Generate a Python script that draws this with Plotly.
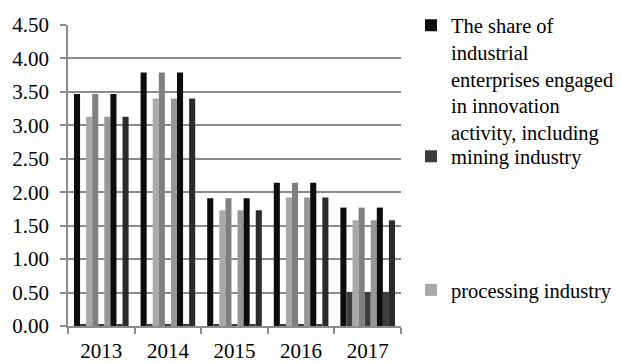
import plotly.graph_objects as go

years = ["2013", "2014", "2015", "2016", "2017"]
total = [3.47, 3.79, 1.91, 2.14, 1.77]
mining = [0.03, 0.03, 0.03, 0.03, 0.51]
processing = [3.13, 3.40, 1.73, 1.92, 1.58]

series_names = [
    "The share of<br>industrial<br>enterprises engaged<br>in innovation<br>activity, including",
    "mining industry",
    "processing industry",
]
bar_colors = ["#0d0d0d", "#3c3c3c", "#a9a9a9",
              "#808080", "#3c3c3c", "#979797",
              "#0d0d0d", "#3c3c3c", "#2b2b2b"]
legend_ids = ["legend", "legend2", "legend3"]

values = [total, mining, processing]
fig = go.Figure()
for i in range(9):
    k = i % 3
    fig.add_trace(go.Bar(
        x=years, y=values[k],
        name=series_names[k],
        marker=dict(color=bar_colors[i], line=dict(width=0)),
        showlegend=(i < 3),
        legend=legend_ids[k],
    ))

FAM = "'Liberation Serif', 'Times New Roman', serif"
font = dict(family=FAM, size=20.5, color="#000")
leg_common = dict(font=font, bgcolor="rgba(0,0,0,0)", x=1.03, xanchor="left",
                  yanchor="top", itemwidth=30, tracegroupgap=0, valign="top")

fig.update_layout(
    width=621, height=363,
    margin=dict(l=68, r=220, t=25, b=37, autoexpand=False),
    paper_bgcolor="white", plot_bgcolor="white",
    barmode="group", bargap=0.18, bargroupgap=0,
    font=font,
    legend=dict(**leg_common, y=1.065),
    legend2=dict(**leg_common, y=0.63),
    legend3=dict(**leg_common, y=0.186),
    xaxis=dict(
        type="category", showgrid=False, showline=True, linecolor="#8c8c8c", linewidth=1.5,
        ticks="outside", tickson="boundaries", ticklen=6, tickcolor="#8c8c8c", tickwidth=1.5,
        tickfont=dict(family=FAM, size=21, color="#000"), ticklabelstandoff=5,
    ),
    yaxis=dict(
        range=[0, 4.5], dtick=0.5, tickformat=".2f",
        showgrid=True, gridcolor="#8c8c8c", gridwidth=1.5,
        showline=True, linecolor="#8c8c8c", linewidth=1.5,
        ticks="outside", ticklen=6, tickcolor="#8c8c8c", tickwidth=1.5,
        tickfont=dict(family=FAM, size=21, color="#000"), ticklabelstandoff=7,
        zeroline=False,
    ),
)

fig.write_html("out.html")
